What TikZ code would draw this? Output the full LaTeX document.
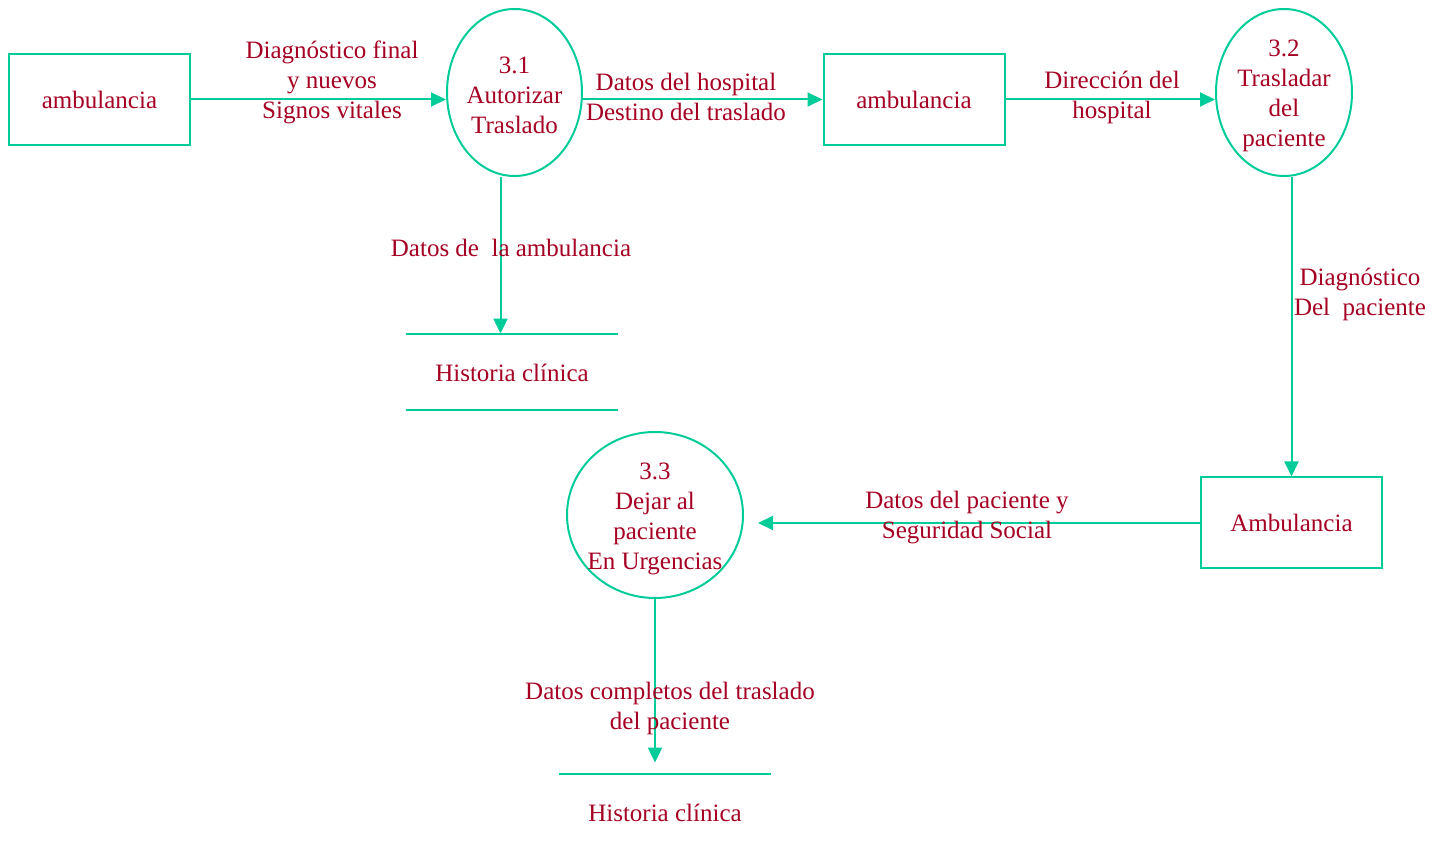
\documentclass[tikz,border=0pt]{standalone}
\usepackage{fontspec}
\setmainfont{Liberation Serif}
\usetikzlibrary{shapes.geometric,arrows.meta}
\definecolor{flowgreen}{RGB}{0,204,153}
\definecolor{textred}{RGB}{165,0,33}

\begin{document}
\begin{tikzpicture}[x=0.5pt,y=-0.5pt,
    every node/.style={text=textred,font=\fontsize{12.5}{15}\selectfont,align=center},
    entity/.style={draw=flowgreen,line width=1pt,minimum width=90.5pt,minimum height=45.5pt,inner sep=0pt},
    process/.style={draw=flowgreen,line width=1pt,ellipse,inner sep=0pt},
    store/.style={minimum width=106pt,minimum height=38pt,inner sep=0pt},
    flow/.style={draw=flowgreen,line width=1pt,-{Triangle[length=7.5pt,width=7pt]}},
    storeline/.style={draw=flowgreen,line width=1pt}]

      % Fix the page size
      \useasboundingbox (0,0) rectangle (1432,849);

      % Draw the entities
      \node[entity] (amb1) at (99.5,99.5) {ambulancia};
      \node[entity] (amb2) at (914,99.5) {ambulancia};
      \node[entity] (amb3) at (1291.5,523) {Ambulancia};

      % Draw the processes
      \node[process,minimum width=67.5pt,minimum height=83.5pt] (p31) at (514.5,92.5) {};
      \node at ([yshift=-1.5pt]p31) {3.1\\Autorizar\\Traslado};
      \node[process,minimum width=68pt,minimum height=83.5pt] (p32) at (1284,92.5) {};
      \node at ([yshift=-1.5pt]p32) {3.2\\Trasladar\\del\\paciente};
      \node[process,minimum width=88pt,minimum height=83pt] (p33) at (655,515) {};
      \node at ([yshift=-2pt]p33) {3.3\\Dejar al\\paciente\\En Urgencias};

      % Draw the data stores
      \node[store] (hc1) at (512,373) {Historia clínica};
      \draw[storeline] ([yshift=0.5pt]hc1.north west) -- ([yshift=0.5pt]hc1.north east);
      \draw[storeline] ([yshift=0.5pt]hc1.south west) -- ([yshift=0.5pt]hc1.south east);
      \node[store] (hc2) at (665,813) {Historia clínica};
      \draw[storeline] ([yshift=0.5pt]hc2.north west) -- ([yshift=0.5pt]hc2.north east);

      % Draw the flows
      \draw[flow] (amb1.east) -- (amb1.east -| p31.west);
      \draw[flow] (amb2.west -| p31.east) -- (amb2.west);
      \draw[flow] (amb2.east) -- (amb2.east -| p32.west);
      \draw[flow] (p32.south -| amb3.north) -- (amb3.north);
      \draw[flow] (amb3.west) -- ([xshift=7pt]amb3.west -| p33.east);
      \draw[flow] ([xshift=-7pt]p31.south) -- ([xshift=-7pt,yshift=0.5pt]p31.south |- hc1.north);
      \draw[flow] (p33.south) -- ([yshift=6pt]p33.south |- hc2.north);

      % Flow labels
      \node (l1) at (332,82) {Diagnóstico final\\y nuevos\\Signos vitales};
      \node (l2) at (686,97) {Datos del hospital\\Destino del traslado};
      \node (l3) at (1112,97) {Dirección del\\hospital};
      \node (l4) at (1360,294) {Diagnóstico\\Del\ \ paciente};
      \node (l5) at (511,248) {Datos de\ \ la ambulancia};
      \node (l6) at (967,518) {Datos del paciente y\\Seguridad Social};
      \node (l7) at (670,708) {Datos completos del traslado\\del paciente};

\end{tikzpicture}
\end{document}
